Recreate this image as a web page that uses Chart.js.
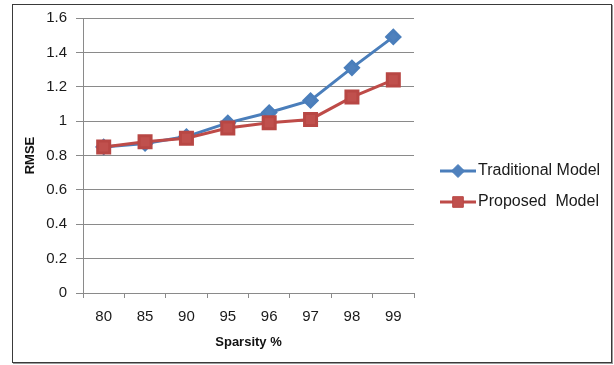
<!DOCTYPE html>
<html>
<head>
<meta charset="utf-8">
<script src="https://cdn.jsdelivr.net/npm/chart.js@4/dist/chart.umd.min.js"></script>
<style>
  html, body { margin: 0; padding: 0; background: #fff; }
  #wrap { position: relative; width: 614px; height: 365px; }
  #frame {
    position: absolute; left: 12px; top: 4px; width: 598px; height: 357px;
    border: 1px solid #3a3a3a; box-shadow: 1px 1px 0 #9a9a9a;
    pointer-events: none;
  }
  canvas { position: absolute; left: 0; top: 0; }
</style>
</head>
<body>
<div id="wrap">
  <canvas id="c" width="614" height="365"></canvas>
  <div id="frame"></div>
</div>
<script>
// Sparsity levels (%) and RMSE for each model
const sparsity = ['80', '85', '90', '95', '96', '97', '98', '99'];
const traditionalRmse = [0.85, 0.87, 0.91, 0.99, 1.05, 1.12, 1.31, 1.49];
const proposedRmse = [0.85, 0.88, 0.90, 0.96, 0.99, 1.01, 1.14, 1.24];
const seriesNames = ['Traditional Model', 'Proposed  Model'];
const yTicks = [0, 0.2, 0.4, 0.6, 0.8, 1, 1.2, 1.4, 1.6];

const GRID = '#8a8a8a';
const FONT = "'Liberation Sans', Arial, sans-serif";

// Legend drawn at the right: a short line segment with the series marker, then the name
const sideLegend = {
  id: 'sideLegend',
  afterDraw(chart) {
    const ctx = chart.ctx;
    const rows = [171, 202];
    chart.data.datasets.forEach((ds, i) => {
      const y = rows[i];
      ctx.save();
      ctx.strokeStyle = ds.borderColor;
      ctx.lineWidth = ds.borderWidth;
      ctx.beginPath();
      ctx.moveTo(440, y);
      ctx.lineTo(476, y);
      ctx.stroke();
      ctx.fillStyle = ds.pointBackgroundColor;
      ctx.strokeStyle = ds.pointBorderColor;
      ctx.lineWidth = 1;
      Chart.helpers.drawPoint(ctx, {
        pointStyle: ds.pointStyle,
        radius: ds.pointRadius - (i === 1 ? 1 : 0),
        rotation: 0,
        borderWidth: 1
      }, 458, y);
      ctx.fillStyle = '#1a1a1a';
      ctx.font = '16px ' + FONT;
      ctx.textBaseline = 'middle';
      ctx.textAlign = 'left';
      ctx.fillText(ds.label, 478, y);
      ctx.restore();
    });
  }
};

new Chart(document.getElementById('c'), {
  type: 'line',
  data: {
    labels: sparsity,
    datasets: [
      {
        label: seriesNames[0],
        data: traditionalRmse,
        order: 1,
        borderColor: '#4a7ebb',
        borderWidth: 3,
        pointStyle: 'rectRot',
        pointRadius: 6.5,
        pointBackgroundColor: '#4f81bd',
        pointBorderColor: '#4a7ebb',
        tension: 0
      },
      {
        label: seriesNames[1],
        data: proposedRmse,
        order: 0,
        borderColor: '#be4b48',
        borderWidth: 3,
        pointStyle: 'rect',
        pointRadius: 8.5,
        pointBackgroundColor: '#c0504d',
        pointBorderColor: '#b84744',
        tension: 0
      }
    ]
  },
  options: {
    responsive: false,
    animation: false,
    layout: { padding: { left: 0, right: 200, top: 17, bottom: 0 } },
    plugins: {
      legend: { display: false },
      tooltip: { enabled: false }
    },
    scales: {
      x: {
        offset: true,
        grid: {
          offset: true,
          drawOnChartArea: false,
          tickLength: 5,
          color: GRID
        },
        border: { display: true, color: GRID, width: 1 },
        ticks: {
          color: '#1a1a1a',
          padding: 10,
          font: { family: FONT, size: 15 },
          maxRotation: 0
        },
        title: {
          display: true,
          text: 'Sparsity %',
          color: '#111',
          font: { family: FONT, size: 13, weight: 'bold' },
          padding: { top: 0, bottom: 15 }
        },
        afterFit(scale) { scale.height = 72; }
      },
      y: {
        min: 0,
        max: 1.6,
        afterBuildTicks(scale) { scale.ticks = yTicks.map(v => ({ value: v })); },
        grid: { color: GRID, tickLength: 7, lineWidth: 1 },
        border: { display: true, color: GRID, width: 1 },
        ticks: {
          color: '#1a1a1a',
          padding: 9,
          font: { family: FONT, size: 15 },
          callback: v => String(Number(v.toFixed(1)))
        },
        title: {
          display: true,
          text: 'RMSE',
          color: '#111',
          font: { family: FONT, size: 13, weight: 'bold' },
          padding: { top: 23, bottom: 0 }
        },
        afterFit(scale) { scale.width = 83; }
      }
    }
  },
  plugins: [sideLegend]
});
</script>
</body>
</html>
